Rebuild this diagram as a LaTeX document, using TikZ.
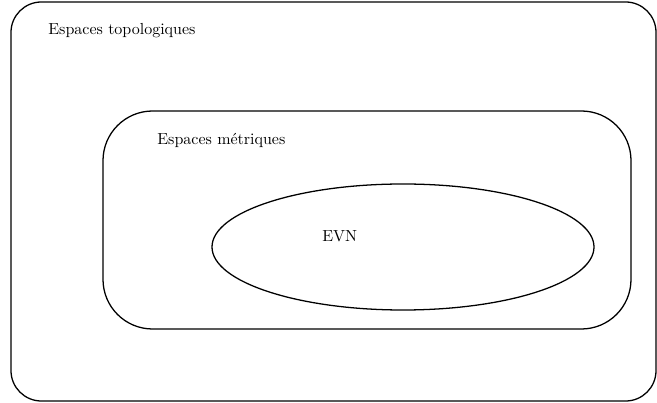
\documentclass[tikz,border=0pt]{standalone}
\usetikzlibrary{shapes.geometric}
\begin{document}
\begin{tikzpicture}[x=0.625pt,y=-0.625pt,
  box/.style={draw,line width=0.8pt},
  lbl/.style={anchor=base west,inner sep=0pt}]
\useasboundingbox (0,0) rectangle (657,403);
\draw[box,rounded corners=19pt] (11,2) rectangle (656,401);
\draw[box,rounded corners=31pt] (103,111) rectangle (631,329);
\node[box,ellipse,minimum width=382*0.625pt,minimum height=126*0.625pt,inner sep=0pt] (evn) at (403,247) {};
\node[lbl] (top) at (48,35) {Espaces topologiques};
\node[lbl] (met) at (157,145) {Espaces métriques};
\node[lbl] (evnl) at (322,242) {EVN};
\end{tikzpicture}
\end{document}
